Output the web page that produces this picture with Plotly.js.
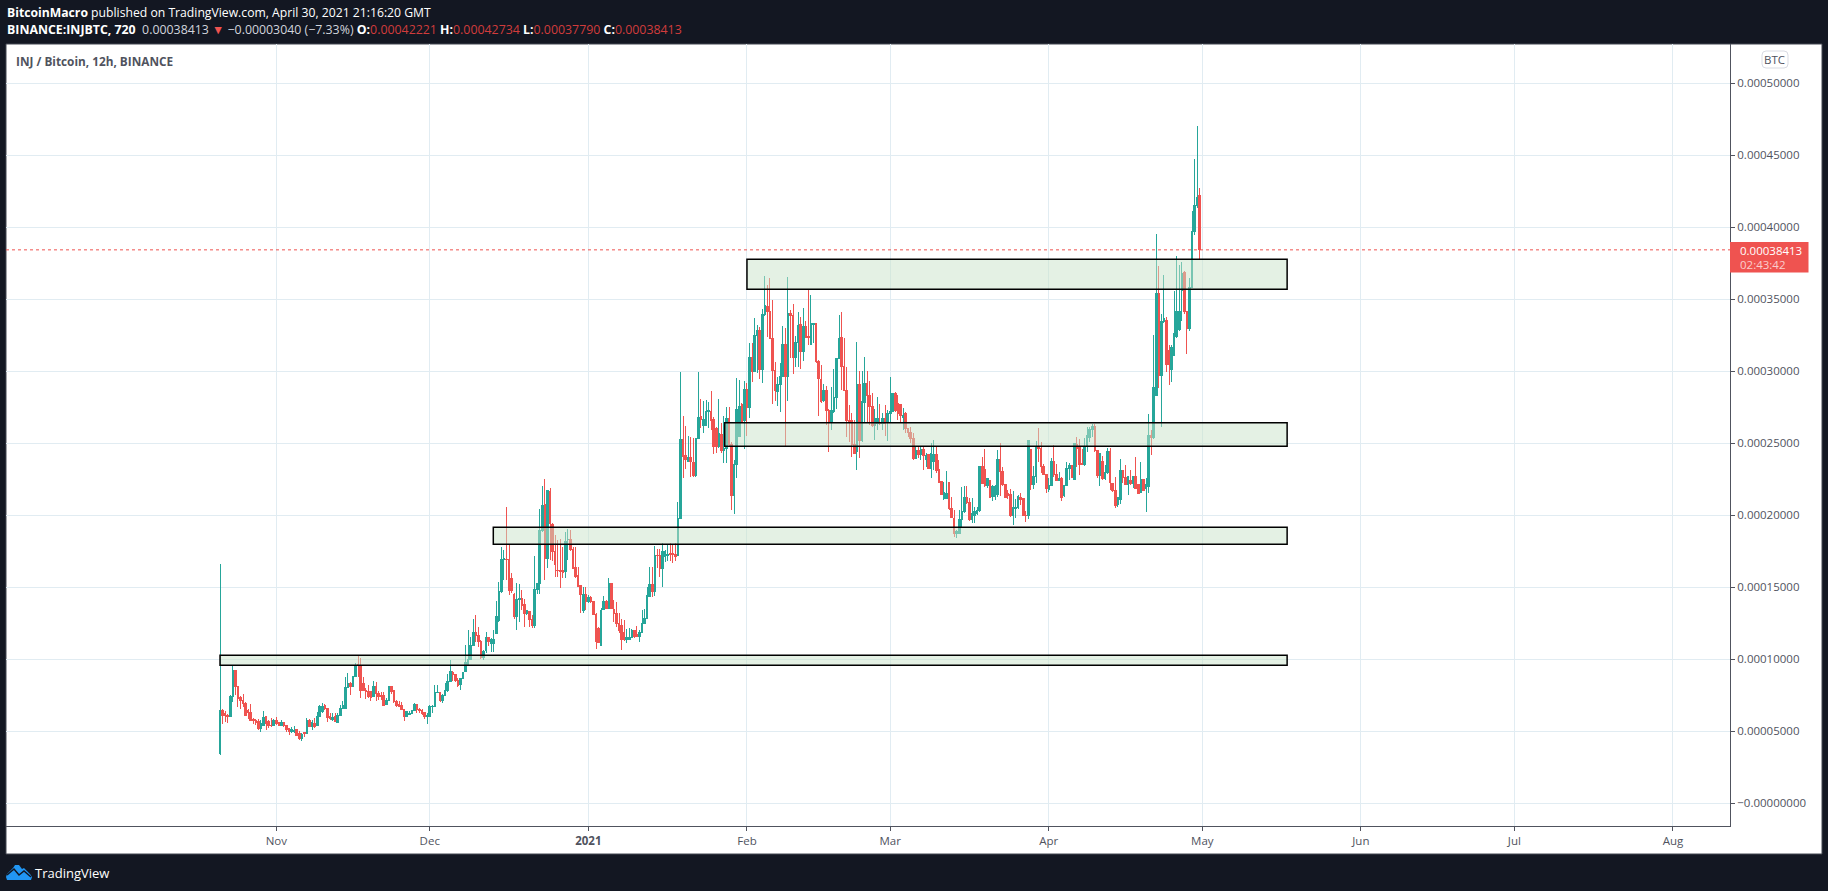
<!DOCTYPE html>
<html>
<head>
<meta charset="utf-8">
<script src="https://cdn.plot.ly/plotly-3.0.1.min.js"></script>
<style>html,body{margin:0;padding:0;background:#131722;overflow:hidden}#chart{width:1828px;height:891px}
.boxlayer path{shape-rendering:crispEdges}</style>
</head>
<body>
<div id="chart"></div>
<script>
// Prices in millionths of a BTC, 12h bars
const firstBar = Date.UTC(2020, 9, 21);
const opens = [
34.5,64,62,61,60,74,92,81,73,71.5,
69,64,63,58,57.6,56.5,52,54,60,56.5,
54,54,57.6,55.8,54,56,54,51.5,49.5,49.5,
50.7,48.4,44.9,48.8,48.4,57.6,53,55.3,53.7,59.9,
63.4,67.8,65.7,59.9,58,59.9,56.2,61,65.5,65.5,
80.3,83,80.8,87.7,96.3,95.8,83,78.4,77.2,77.2,
73.8,81.2,75.7,75,74.5,68.5,71,81.2,77.8,70.3,
68.7,68,65,59.9,61.7,62.2,64.1,68.7,65,63.9,
62.7,60.4,60.4,66.9,66.9,76.6,77,71.5,75,78,
84.2,90.5,88.9,85.4,82.6,86.5,91.2,95.8,99.7,109.7,
118.7,116,112.5,101.1,105.8,115,110.9,110.9,118,127,
147,169,169,168.8,156,144.5,129.4,141,141.9,138,
131.8,132.9,127.6,123,148.4,152.6,189,207.4,169.5,216.5,
193.3,174.6,161.8,161.8,161.4,160.7,182.7,182.7,175.7,163.7,
157.7,150.7,134,144.5,139.8,142.8,139.8,131,121.3,109.7,
134.5,139.8,135.2,152.6,134.5,131.7,124.8,123.6,118.3,113.2,
113.7,115,119.5,116.7,115.5,118.3,124.8,128.2,143.3,152,
146.8,172.2,172.2,163,171.5,172.2,173.4,173.4,172.9,172,
197.7,252.6,241,237,240,236.4,227.1,253.3,268.3,262.5,
262.5,272.2,272.2,266,260.2,247.5,256.2,245.1,246.3,267.1,
249.3,213.4,235.4,254.8,276.8,265.9,287.2,274.5,309.5,299.5,
324.5,328.4,300.7,338.9,345.1,341.6,322.7,300.2,285.6,290.9,
296.5,318.7,296.5,339.6,338.2,309.2,319.6,332.6,313.4,331.2,
324.3,318.7,332.6,333.1,306.5,294.2,279.4,286.8,272.9,264.1,
271.7,281.7,308.8,323.4,303.4,286.8,265.5,265.9,249.3,244,
290.3,251.6,278,291.4,283.3,275.2,262.5,263.6,264.1,263.6,
267.1,264.1,270.6,272.2,284.5,277.5,277,267.6,270.6,260.2,
257.1,253.2,239.3,245.1,242.3,245.8,238.6,242.1,232.4,237.5,
242.3,231.7,223.1,211.6,211.6,222.9,204.4,197.7,187.2,187.2,
197,202.3,212.2,209,197,200,201.1,202.8,234,231.7,
220.8,224.3,212.7,212.7,213.9,238.2,230.1,221,214.6,213.9,
199.6,204.6,205.3,212.3,211.6,199.8,199.6,245.2,221.5,227,
247.5,246.3,234,227.8,218,220.8,237.5,227.8,224.3,225.5,
213.2,220.4,232,234.7,224.8,249.3,246.8,235.9,235.4,247.5,
254,259.5,261.8,244.7,227.1,237,225.5,229.4,244,222,
216.7,207,211.1,230.6,226.2,220.9,224.3,222,227,220.9,
215.7,225,218.5,219.7,254.9,253.7,283.3,353.9,297.2,334.7,
335.4,313.9,300.7,311,323.8,328.5,356.2,368.5,341.2,329.2,
358.1,396.7,414.6,422.21];
const highs = [
165.7,65,64,62,75,96,92,81,74,76,
70,65,69,59,58,58,57.6,64,60.5,57.6,
59,58.5,60,56.5,57.6,56.5,54,52.3,53,53.5,
51,50,48.8,49,58.8,58,57.6,58.8,63.4,68,
69.2,68.5,65.7,62.2,62.2,62.2,62.7,68,71,87.2,
90,84.2,88.2,97,102.5,100.4,87.2,79.6,81.9,77.2,
85,84.2,78,77.2,77.2,72.6,81.2,81.2,77.8,71.5,
71,70.3,65,64.1,64.1,64.6,69.2,68.7,65.7,65,
63.4,62.2,67.8,68,81.9,81.9,77,76,83.5,89.6,
99.3,91.4,89.6,86.5,86.5,90.7,109.7,120,115.5,128,
130.5,122.4,113.2,106.2,118.9,115.5,114.3,120,140,153.5,
178,176,205.6,179,160,146,153,152,148,142,
134,133.4,130.6,171.5,152.6,204,220,224.8,217.4,219,
194.2,186,182.7,183,178,188.4,190,189.6,178,178,
164,151.4,149.8,150,144.5,143.8,139.8,131.7,122.5,135.2,
143.8,141,156,153,141,139.8,131.7,128,127,120.6,
121.3,120.6,120,122.9,120,134,135,149.8,164,164,
178.5,176.4,176.2,180.3,175.7,179,180.3,179,180.3,208.8,
299.6,268.8,261.8,254.9,254,253.3,253.3,299.6,280.3,279.4,
279.9,278.7,286.4,268.3,261.4,280.3,263.6,268.7,275.2,275.2,
250.9,238.2,294.9,293.7,277.5,293.3,291.4,319.2,319.2,336.5,
331.9,330.3,342.8,366,359.7,364.3,349.3,306.5,296,305.3,
331.2,329.8,365,342.3,346.5,324.3,341.2,337.7,343.7,334.7,
356.7,352.7,333.1,333.5,307.6,304.1,290.7,289.6,273.4,289.1,
301.1,308.8,338.9,341,322.7,303,276.4,270.6,265.9,320.3,
300,300.2,309.9,300.2,293.3,284.5,273.4,282.1,277,270.6,
276.4,272.9,296,284.5,285.6,283.3,277,274,271.3,260.2,
261.3,256.7,247.4,247.4,247.4,247.4,242.8,242.1,249.7,252,
247.4,238.2,223.1,223.1,230.8,223.1,212.7,203.4,189.6,203.4,
219.6,220.1,220.1,211.5,211.5,205.8,205.8,234,240,245.8,
226,224.3,220.8,220.8,245.1,250.2,233.5,221.3,217.3,217.8,
216.9,210.9,213.9,215,211.6,202.8,251.4,246.1,234,251.4,
260.2,250.5,235.2,228.5,225.5,239.5,248.6,235.4,230.1,226.6,
220.8,236.6,235.9,234.7,249.8,254,252.6,245.6,253.3,260.9,
260.9,263.2,263.2,245.2,242.4,241,234.7,246.3,246.3,222,
226.6,212.7,238.9,231.3,234.7,226.6,231.3,227,240,220.9,
236.6,225,225.5,270.2,259,325,395.1,372.9,339.6,366.7,
337.7,318,318,355.5,379.8,373.6,375.5,369.7,341.2,364.3,
411,447,470,427.34];
const lows = [
33,55,56,55.5,60,70,75,67,65,67,
61,58,57,55,54,50.6,49.5,54,50.7,52,
52.5,53.5,54,53.5,53.5,53,49.5,47,48.8,48.8,
46.7,44,43,46,47.9,52.5,50.7,51.8,53.5,59.5,
62.7,64.6,56.5,57.6,57.2,56.5,55.8,60.6,65,65.2,
79.6,75,80.3,87.2,87.7,72.6,78,72,72.6,71,
73.4,71,71.5,71.5,68,68,70.6,76,69.2,66.8,
66.4,64.6,57.2,59.5,61.5,61.7,63.7,62.7,62.2,61,
58,54.8,59.9,62.7,66.4,76.1,70.3,69.6,74.5,77.2,
83.8,84.9,84.2,80.3,78.4,86.5,90.7,95.3,99.3,109,
112,108.5,100,99.3,104.4,109,105,105,118,126,
145.6,155,155,144.5,146,128,120,126,134,122,
130.6,122.5,121.3,121.3,145,145,188.4,155,163,169,
168.3,157,157.2,149.6,156,156,168.8,175,163,156,
150,131.7,132,134,139,138.7,130.6,106.7,110.9,109.7,
134,135.2,135,135.2,126,122,118,106.3,112.7,110.9,
113.2,114.4,114.4,115,112,117.8,124.3,127.6,142.8,143.3,
143.8,163,157.2,150,167.6,168.3,168.3,166.4,168.3,171.5,
197.7,225.5,231.7,237,226.2,226.2,226.6,252.6,260.2,256.7,
261.8,260.2,259,242.4,242.8,246.3,242.8,235.9,235.9,247.4,
203.4,200.7,225.4,254.8,264.8,245.8,254.8,267.1,292.6,299.5,
298.4,294.2,291.9,338.4,323.8,322.2,277,279.4,275.7,271.5,
296,248,279.4,308.8,297.9,303,303,301.1,306.9,322.7,
318,318,319.2,305.3,268.7,278,278.7,262.5,244,259,
271,273.4,308.3,286.8,286.8,254.4,250.9,240.5,242.3,231.2,
239.3,250.9,263.6,264.8,262.5,261.3,252,259,262.5,259,
254.8,251.6,264.8,271.7,271.7,265.9,264.3,259,256.7,254.4,
249.7,238.2,238.6,239.3,238.2,231.2,233.5,231.7,225.4,231.2,
229.4,222,213.9,210.4,210.8,203.4,197.7,184.9,183.8,186.5,
191.9,201.1,207.6,196,194.6,194.2,200,202.3,221.5,219.2,
218.5,212.2,210,210.4,212.7,213.4,220,211.5,210.8,198.9,
193,198.2,204,206.9,199.6,195.4,197.2,217.4,218,222.5,
237,229.4,227.6,215.5,216.2,220.4,226.6,224.3,223.9,210,
212.7,220.2,224.3,226,224.3,233.6,227.8,234.7,234,244,
251,254,244,225.5,220.2,224.3,224.3,228.5,217.4,216.2,
204.9,205.8,207.4,222,220.9,213.9,220.9,218.5,217.8,214.6,
215.1,217.2,202.1,215.1,241.7,253,283,288.4,261.3,333,
299.5,290.3,292.6,311,322.7,328,335,339.6,311.8,328,
357.4,394.4,413,377.9];
const closes = [
64,61,60.5,60,74,92,81,72.6,71,69,
61,63,57.6,57,56,51.5,55.3,59.5,55.3,53.7,
53.5,57.6,55,54,56,53.7,51,49.5,51,50.5,
46.7,44.9,47.9,48.4,57.6,53,55.8,53,59.9,66.9,
67.3,65.7,59.5,58.8,59.5,56.5,61,65.7,68,80.3,
83,80.8,87.7,95.8,95.8,78.4,78.4,77.2,73.8,73,
81.2,76,74.3,73.8,68,71.5,81.2,77.2,70.3,68,
67.3,65,59.9,63.4,62.2,64.1,68.7,65,64.1,62.2,
60.4,61,66.9,67.3,77,77,71,75,78,84.2,
91,88.9,84.9,81.9,86.5,90.7,97.4,99.7,109.7,118.7,
116,112,100.9,105,115,112,113.6,113.6,129.4,147,
169.2,169.7,168.8,147.5,147.5,129.4,141,141.9,137.5,131.8,
133.6,127.6,123,148.4,152.6,189,206.7,169.5,217,193.8,
174.6,165.3,161.4,160.7,160.4,181.5,183.1,175.7,163,157,
150.3,144.5,144.5,139.8,142.8,139.8,131,112,111.6,134,
139.8,135.2,152.6,135.2,131.7,124.8,120,113.2,113.2,115,
115,119.5,115.5,115.5,118.3,124.8,128.2,143.8,152,146.8,
172.2,171.8,163,175,175,172.7,172.9,172.5,171.5,197.7,
252.6,240.5,238.2,240,237,227.1,253.3,267.8,266,266.5,
272.2,272.7,265.5,247.5,247.5,256.3,244.6,246.3,267.1,249.3,
213.4,235.4,273.4,275.2,265.2,287.2,274.5,309.5,299.5,324.5,
327.8,300.7,338.9,345.8,341.2,322.7,300.2,286.3,290.9,296.5,
318.7,296.5,339.6,338.2,309.2,319.6,331.9,313.4,331.2,323.1,
323.1,333.1,333.1,306.5,294.9,278.7,286.8,272.9,264.1,272.9,
281.7,308.8,322.7,303.4,286.8,265.5,264.8,249.3,242.8,290.3,
251.6,279.1,291.4,283.3,275.2,262.5,267.1,267.1,263.2,267.1,
263.6,270.6,271.7,284.5,272.4,270.6,269.4,269.4,260.2,257.1,
253.2,239.3,245.1,242.3,245.8,241.6,241.6,232.4,242.8,242.3,
231.2,222.9,214.3,215.5,215,204.4,198.1,187.2,188.4,197,
202.3,212.2,208.5,197,201.1,202.3,202.8,234,222,220.8,
225.4,212.2,219.6,219.6,238.6,230.1,221,212.2,213.2,199.6,
205.3,205.3,212.7,211.1,199.6,199.6,251.4,221.5,227,247.5,
245.9,234,227.8,218.5,220.8,237.5,227.8,224.3,225.5,212.1,
220.4,232,234.7,226,249.8,246.3,235.4,235.4,247.5,254.9,
259.5,261.8,244.7,227.1,242.4,225.5,229.4,244,222.5,216.7,
206.5,212.3,230.6,226.2,220.9,226.6,222,227,218.5,215.1,
225,217.3,220.9,254.9,253.7,288.7,353.9,297.2,334.7,336.6,
304.2,304.2,316.4,326.2,341,341,367.8,341.2,329.2,358.1,
396.7,414.6,420.6,384.13];

// Support / resistance zones
const zoneStart = ['2021-02-01 00:00','2021-01-27 15:30','2020-12-13 10:00','2020-10-21 00:00'];
const zoneEnd = '2021-05-17 14:00';
const zoneTop = [377.6,264.1,191.5,102.6];
const zoneBottom = [356.7,247.7,179.7,95.6];
const lastPrice = 384.13;

const yTickVals = [500,450,400,350,300,250,200,150,100,50,0];
const yTickText = ['0.00050000','0.00045000','0.00040000','0.00035000','0.00030000','0.00025000','0.00020000','0.00015000','0.00010000','0.00005000','−0.00000000'];
const xTickVals = ['2020-11-01','2020-12-01','2021-01-01','2021-02-01','2021-03-01','2021-04-01','2021-05-01','2021-06-01','2021-07-01','2021-08-01'];
const xTickText = ['Nov','Dec','<b>2021</b>','Feb','Mar','Apr','May','Jun','Jul','Aug'];

const UP = '#26a69a', DOWN = '#ef5350', INK = '#50535e';
const FONT = '"Open Sans", sans-serif';
const L = 6, R = 1730, T = 44, B = 826;
const px = v => (v - L) / (R - L), py = v => (B - v) / (B - T);
const toBTC = a => a.map(v => v / 1e6);
const iso = ms => new Date(ms).toISOString().slice(0, 16).replace('T', ' ');
const dates = opens.map((_, i) => iso(firstBar + i * 43200000));

function box(x0, y0, x1, y1, extra) {
  return Object.assign({type:'rect', xref:'paper', yref:'paper', x0:px(x0), x1:px(x1), y0:py(y0), y1:py(y1), layer:'below', line:{width:0}}, extra);
}
function note(x, y, text, size, color, anchor) {
  return {xref:'paper', yref:'paper', x:px(x), y:py(y), text, showarrow:false, xanchor:anchor || 'left', yanchor:'middle',
          borderpad:0, font:{family:FONT, size, color}};
}
function pathOf(points, close) {
  return 'M' + points.map(p => px(p[0]) + ',' + py(p[1])).join(' L') + (close ? ' Z' : '');
}
function rounded(x0, y0, x1, y1, r) {
  const X = px, Y = py;
  return `M${X(x0+r)},${Y(y0)} L${X(x1-r)},${Y(y0)} Q${X(x1)},${Y(y0)} ${X(x1)},${Y(y0+r)} L${X(x1)},${Y(y1-r)} Q${X(x1)},${Y(y1)} ${X(x1-r)},${Y(y1)} L${X(x0+r)},${Y(y1)} Q${X(x0)},${Y(y1)} ${X(x0)},${Y(y1-r)} L${X(x0)},${Y(y0+r)} Q${X(x0)},${Y(y0)} ${X(x0+r)},${Y(y0)} Z`;
}

const shapes = [
  box(6, 44, 1822, 854, {fillcolor:'#ffffff', line:{color:'#434651', width:1}}),
  // price line
  {type:'line', xref:'paper', yref:'y', x0:0, x1:1, y0:lastPrice/1e6, y1:lastPrice/1e6, layer:'above', line:{color:DOWN, width:1, dash:'dot'}}
];
zoneStart.forEach((s, i) => shapes.push({
  type:'rect', xref:'x', yref:'y', x0:s, x1:zoneEnd, y0:zoneBottom[i]/1e6, y1:zoneTop[i]/1e6, layer:'above',
  fillcolor:'rgba(201,227,201,0.5)', line:{color:'#000000', width:1.5}
}));
shapes.push(
  box(1730, 242, 1808.5, 272.5, {fillcolor:DOWN, layer:'above'}),
  {type:'path', xref:'paper', yref:'paper', layer:'above', path:rounded(1762, 51, 1788, 68, 4), line:{color:'#d9dbe3', width:1}, fillcolor:'#ffffff'},
  // TradingView logo
  {type:'path', xref:'paper', yref:'paper', layer:'above', line:{width:0}, fillcolor:'#2196f3',
   path:pathOf([[6,877],[7,874],[10,871],[13,868],[15,865],[19,865],[22,869],[24,868],[27,871],[30,874],[32,877],[31,880],[7,880]], true)},
  {type:'path', xref:'paper', yref:'paper', layer:'above', line:{width:1.5, color:'#131722'}, 
   path:pathOf([[7,875],[14,869],[19,875],[24,871],[31,877]], false)}
);

const annotations = [
  note(6, 13, '<b>BitcoinMacro</b> published on TradingView.com, April 30, 2021 21:16:20 GMT', 12.2, '#ffffff'),
  note(6, 29, '<b>BINANCE:INJBTC, 720</b>  <span style="color:#d1d4dc">0.00038413</span> <span style="color:#ef5350">▼</span> <span style="color:#d1d4dc">−0.00003040 (−7.33%)</span> <b>O:</b><span style="color:#d13c3c">0.00042221</span> <b>H:</b><span style="color:#d13c3c">0.00042734</span> <b>L:</b><span style="color:#d13c3c">0.00037790</span> <b>C:</b><span style="color:#d13c3c">0.00038413</span>', 12.35, '#ffffff'),
  note(15, 60.5, '<b>INJ / Bitcoin, 12h, BINANCE</b>', 11.8, INK),
  note(1775, 59.5, 'BTC', 11.5, INK, 'center'),
  note(1739, 250.3, '0.00038413', 11.5, '#ffffff'),
  note(1739, 264.3, '02:43:42', 11.5, 'rgba(255,255,255,0.72)'),
  note(33.5, 872.5, 'TradingView', 13, '#ffffff')
];

Plotly.newPlot('chart', [{
  type:'candlestick', x:dates, open:toBTC(opens), high:toBTC(highs), low:toBTC(lows), close:toBTC(closes),
  whiskerwidth:0, hoverinfo:'skip',
  increasing:{line:{color:UP, width:1}, fillcolor:UP},
  decreasing:{line:{color:DOWN, width:1}, fillcolor:DOWN}
}], {
  width:1828, height:891, showlegend:false, dragmode:false, boxgap:0.12,
  paper_bgcolor:'#131722', plot_bgcolor:'#ffffff',
  margin:{l:L, r:1828-R, t:T, b:891-B, pad:0},
  font:{family:FONT, size:11.5, color:INK},
  xaxis:{type:'date', range:['2020-09-09 04:00','2021-08-12 03:36'], rangeslider:{visible:false},
    tickmode:'array', tickvals:xTickVals, ticktext:xTickText, ticks:'outside', ticklen:4, tickcolor:INK,
    showgrid:true, gridcolor:'#e1ecf2', gridwidth:1, showline:true, linecolor:INK, linewidth:1, zeroline:false,
    tickfont:{family:FONT, size:11.5, color:INK}},
  yaxis:{side:'right', range:[-0.00001597, 0.00052708], tickmode:'array', tickvals:toBTC(yTickVals), ticktext:yTickText,
    ticks:'outside', ticklen:4, tickcolor:INK, showgrid:true, gridcolor:'#e1ecf2', gridwidth:1,
    showline:true, linecolor:INK, linewidth:1, zeroline:false, tickfont:{family:FONT, size:11.5, color:INK}},
  shapes, annotations
}, {staticPlot:true, displayModeBar:false});
</script>
</body>
</html>
